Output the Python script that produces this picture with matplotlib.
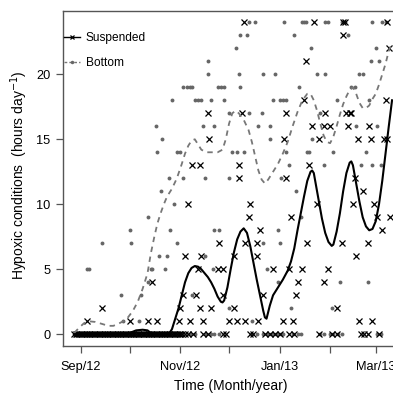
import matplotlib
matplotlib.use("Agg")
import matplotlib.pyplot as plt

plt.rcParams['font.family'] = ['Liberation Sans', 'DejaVu Sans']

# days counted from 1 Sep 2012, values in hours per day
early_zero_days = [-4, -3, -2, -1, 0, 1, 2, 3, 4, 5, 6, 7, 8, 9, 10, 11, 12, 13, 14,
                   15, 16, 17, 18, 19, 20, 21, 22, 23, 24, 25, 26, 27, 28, 29, 30, 31,
                   32, 33, 34, 35, 36, 37, 38, 39, 40, 41, 42, 43, 44, 45, 46, 47, 48,
                   49, 50, 51, 52, 53, 54, 55, 56, 57, 58, 59, 60, 61, 62]

suspended_obs = [(4, 1), (13, 2), (30, 1), (41, 1), (44, 4), (47, 1), (60, 1), (61, 2),
                 (63, 3), (64, 6), (66, 10), (67, 1), (68, 13), (71, 3), (72, 5), (73, 13),
                 (73, 2), (74, 6), (75, 1), (78, 17), (79, 15), (80, 2), (84, 5), (85, 7),
                 (87, 5), (87, 3), (91, 1), (94, 2), (96, 1), (94, 6), (97, 12), (97, 13),
                 (99, 17), (100, 24), (101, 7), (101, 1), (103, 9), (104, 10), (108, 6),
                 (108, 7), (109, 1), (110, 8), (112, 3), (118, 5), (124, 1), (125, 15),
                 (126, 12), (126, 17), (128, 5), (129, 9), (130, 1), (132, 3), (133, 4),
                 (136, 5), (137, 18), (138, 21), (139, 7), (140, 13), (142, 16), (143, 24),
                 (145, 10), (146, 15), (149, 4), (149, 16), (150, 17), (152, 5), (153, 16),
                 (157, 2), (160, 7), (161, 24), (162, 24), (161, 23), (163, 17), (164, 16),
                 (165, 17), (166, 17), (167, 10), (168, 12), (169, 6), (170, 15), (171, 1),
                 (173, 11), (176, 7), (177, 16), (178, 15), (179, 1), (180, 10), (182, 9),
                 (185, 8), (186, 15), (187, 18), (188, 15), (189, 22), (190, 9), (188, 24),
                 (64, 0), (66, 0), (69, 0), (75, 0), (78, 0), (87, 0), (89, 0), (104, 0),
                 (106, 0), (113, 0), (116, 0), (119, 0), (122, 0), (128, 0), (131, 0),
                 (146, 0), (154, 0), (157, 0), (172, 0), (174, 0), (176, 0), (183, 0)]

bottom_obs = [(4, 5), (5, 5), (13, 7), (25, 3), (26, 1), (30, 8), (31, 7), (36, 1),
              (37, 3), (41, 4), (41, 9), (43, 5), (44, 5), (46, 16), (47, 14), (48, 6),
              (49, 11), (50, 15), (52, 5), (53, 6), (54, 12), (55, 8), (56, 18), (57, 10),
              (59, 7), (59, 14), (61, 14), (63, 12), (63, 19), (65, 19), (67, 19), (68, 3),
              (68, 19), (70, 18), (72, 18), (74, 18), (75, 16), (76, 6), (76, 12), (78, 21),
              (78, 20), (80, 18), (81, 5), (82, 8), (82, 16), (84, 19), (85, 8), (86, 19),
              (88, 18), (88, 19), (91, 17), (91, 12), (91, 2), (93, 14), (95, 22), (96, 14),
              (97, 20), (98, 19), (98, 23), (100, 14), (102, 23), (103, 24), (103, 17),
              (105, 1), (107, 24), (109, 16), (111, 17), (112, 20), (112, 7), (114, 5),
              (116, 15), (116, 16), (118, 18), (119, 20), (121, 4), (121, 8), (122, 7),
              (122, 18), (123, 12), (124, 18), (125, 24), (126, 18), (126, 14), (128, 13),
              (129, 2), (131, 23), (132, 11), (134, 19), (135, 9), (136, 24), (137, 24),
              (138, 24), (139, 14), (140, 14), (141, 22), (142, 15), (145, 20), (147, 17),
              (149, 13), (150, 24), (152, 24), (150, 20), (154, 2), (155, 14), (157, 18),
              (159, 4), (160, 24), (162, 24), (164, 23), (166, 19), (168, 19), (169, 16),
              (171, 20), (172, 13), (173, 20), (175, 14), (176, 4), (177, 18), (178, 21),
              (179, 24), (179, 13), (182, 16), (183, 21), (184, 13), (185, 24), (187, 24),
              (181, 22),
              (67, 0), (70, 0), (77, 0), (80, 0), (82, 0), (85, 0), (105, 0), (108, 0),
              (112, 0), (114, 0), (117, 0), (118, 0), (120, 0), (121, 0), (123, 0),
              (124, 0), (130, 0), (133, 0), (135, 0), (147, 0), (149, 0), (153, 0),
              (155, 0), (158, 0), (160, 0), (182, 0), (184, 0)]

# smoothed trends
suspended_trend = [(-4, 0), (28, 0), (31, 0.15), (34, 0.3), (38, 0.35), (41, 0.3), (43, 0.1),
                   (45, 0), (54, 0), (56, 0.4), (58, 1.2), (60, 2.0), (62, 3.0), (64, 4.0),
                   (66, 4.7), (68, 5.1), (70, 5.25), (72, 5.2), (74, 5.0), (76, 4.7), (78, 4.4),
                   (80, 4.0), (82, 3.5), (84, 2.9), (86, 2.5), (87, 2.45), (88, 2.6), (90, 3.6),
                   (92, 5.0), (94, 6.3), (96, 7.3), (98, 7.9), (100, 8.15), (102, 7.8),
                   (104, 6.8), (106, 5.5), (108, 4.2), (110, 3.0), (112, 1.8), (113, 1.3),
                   (114, 1.2), (116, 2.2), (118, 3.0), (121, 3.6), (124, 4.2), (127, 4.9),
                   (129, 5.6), (131, 6.6), (133, 8.0), (135, 9.3), (137, 10.6), (139, 11.8),
                   (141, 12.5), (142, 12.6), (143, 12.4), (145, 11.0), (147, 9.6), (148, 8.9),
                   (150, 7.8), (152, 7.1), (154, 6.8), (155, 6.9), (157, 7.9), (159, 9.3),
                   (161, 11.0), (163, 12.4), (165, 13.2), (166, 13.3), (167, 13.0), (169, 11.6),
                   (171, 10.2), (173, 9.0), (175, 8.3), (177, 8.0), (179, 8.1), (181, 8.7),
                   (183, 10.0), (185, 11.8), (187, 13.9), (189, 16.0), (191, 18.0)]

bottom_trend = [(-4, 0.1), (-1, 0.5), (2, 0.85), (5, 1.0), (9, 0.95), (13, 0.8), (17, 0.65),
                (20, 0.65), (23, 0.8), (26, 1.0), (29, 1.3), (32, 1.8), (35, 2.5), (38, 3.5),
                (41, 4.7), (43, 6.2), (45, 7.4), (47, 8.5), (49, 9.3), (51, 10.0), (53, 10.6),
                (56, 11.2), (59, 12.0), (62, 13.1), (64, 13.9), (66, 14.5), (68, 14.9),
                (70, 15.0), (72, 14.6), (74, 14.2), (77, 14.0), (80, 14.0), (84, 14.0),
                (87, 14.2), (89, 15.0), (91, 16.2), (93, 17.0), (95, 17.2), (97, 17.0),
                (100, 16.5), (103, 15.7), (105, 14.8), (107, 13.7), (109, 12.6), (111, 11.9),
                (113, 11.6), (115, 11.9), (118, 12.5), (121, 13.1), (124, 13.9), (127, 14.8),
                (130, 16.0), (133, 17.1), (136, 18.0), (139, 18.5), (141, 18.5), (143, 18.0),
                (145, 17.2), (147, 16.2), (149, 15.3), (151, 14.8), (153, 14.7), (155, 15.2),
                (157, 16.0), (159, 16.9), (161, 17.7), (163, 18.3), (165, 18.8), (167, 19.0),
                (169, 18.5), (171, 17.8), (173, 17.4), (175, 17.4), (177, 17.6), (179, 18.1),
                (181, 18.5), (183, 19.2), (185, 20.0), (187, 20.8), (189, 21.8), (191, 22.4)]

month_ticks = [0, 30, 61, 91, 122, 153, 181]
month_labels = ['Sep/12', '', 'Nov/12', '', 'Jan/13', '', 'Mar/13']

frame_col = '#555555'
dot_col = '#666666'

fig = plt.figure(figsize=(3.93, 3.96), dpi=100)
ax = fig.add_axes([0.1603, 0.1263, 0.8746, 0.846])

bx = [d for d, h in bottom_obs] + early_zero_days
by = [h for d, h in bottom_obs] + [0 for d in early_zero_days]
sx = [d for d, h in suspended_obs] + early_zero_days
sy = [h for d, h in suspended_obs] + [0 for d in early_zero_days]

ax.plot(bx, by, ls='none', marker='o', ms=2.8, color=dot_col, mec='none')
ax.plot(sx, sy, ls='none', marker='x', ms=4, mew=0.9, color='black')

ax.plot([d for d, h in bottom_trend], [h for d, h in bottom_trend],
        color='#777777', lw=1.3, dashes=(3, 2.6))
ax.plot([d for d, h in suspended_trend], [h for d, h in suspended_trend],
        color='black', lw=1.5)

# legend handles
h1, = ax.plot([], [], color='black', lw=1.0, marker='x', ms=3.5, mew=0.9)
h2, = ax.plot([], [], color='#777777', lw=1.0, dashes=(2, 1.5), marker='o', ms=2.5,
              mec='none', mfc=dot_col)
ax.legend([h1, h2], ['Suspended', 'Bottom'], loc='upper left', frameon=False,
          bbox_to_anchor=(0.004, 0.936), borderpad=0, borderaxespad=0,
          handlelength=1.3, handletextpad=0.5, labelspacing=1.05, fontsize=8.6)

ax.set_xlim(-10.86, 200)
ax.set_ylim(-0.9, 24.87)
ax.set_xticks(month_ticks)
ax.set_xticklabels(month_labels)
ax.set_yticks([0, 5, 10, 15, 20])

for s in ax.spines.values():
    s.set_color(frame_col)
    s.set_linewidth(1.0)
ax.tick_params(axis='both', direction='out', length=5, width=0.9, color=frame_col,
               labelsize=9.2, pad=4)
ax.tick_params(axis='x', pad=6)

ax.set_xlabel('Time (Month/year)', fontsize=10)
ax.xaxis.set_label_coords(0.489, -0.1)
ax.set_ylabel('Hypoxic conditions  (hours day$^{-1}$)', fontsize=10)
ax.yaxis.set_label_coords(-0.097, 0.51)

fig.savefig('out.png', dpi=100)
